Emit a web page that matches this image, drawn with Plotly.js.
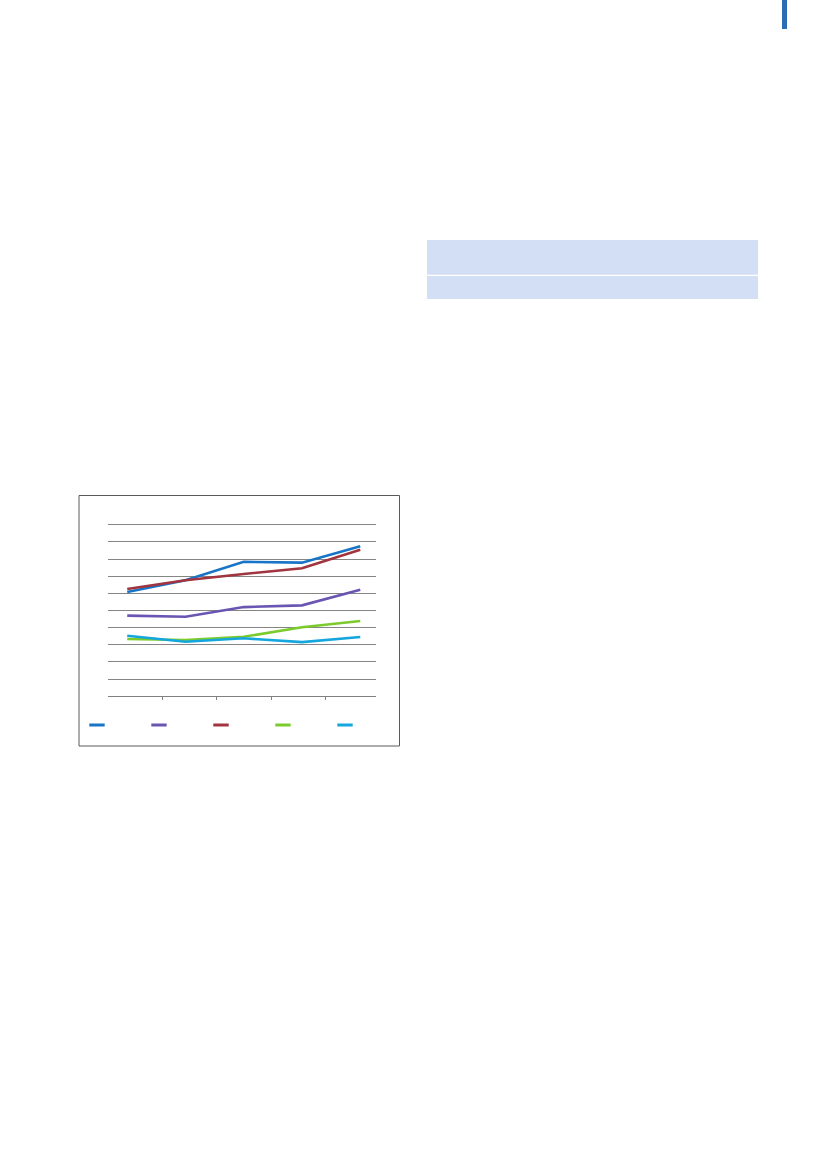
<!DOCTYPE html>
<html>
<head>
<meta charset="utf-8">
<script src="https://cdn.plot.ly/plotly-3.0.1.min.js"></script>
<style>
  html, body { margin: 0; padding: 0; background: #fff; }
  #page { width: 827px; height: 1169px; }
</style>
</head>
<body>
<div id="page"></div>
<script>
// 5 periods, values (no labels visible)
var periods = [0, 1, 2, 3, 4];
var serieBlue   = [6.08, 6.76, 7.84, 7.79, 8.74];
var seriePurple = [4.70, 4.64, 5.20, 5.30, 6.21];
var serieRed    = [6.25, 6.76, 7.13, 7.46, 8.54];
var serieGreen  = [3.34, 3.28, 3.47, 4.02, 4.39];
var serieCyan   = [3.53, 3.18, 3.38, 3.16, 3.46];
var colors = ['#1874c6', '#6b55b3', '#a0343f', '#7ccb2c', '#14a6dd'];

window.onload = function () {
  var W = 827, H = 1169;
  function px(x) { return x / W; }
  function py(y) { return 1 - y / H; }

  var series = [serieBlue, seriePurple, serieRed, serieGreen, serieCyan];
  var data = [];
  // lines on the chart
  series.forEach(function (s, i) {
    data.push({
      x: periods, y: s, type: 'scatter', mode: 'lines',
      line: { color: colors[i], width: 2.6 },
      showlegend: false, legendgroup: 'g' + i, hoverinfo: 'skip'
    });
  });
  // short legend keys
  series.forEach(function (s, i) {
    data.push({
      x: [null], y: [null], type: 'scatter', mode: 'markers',
      name: '', legendgroup: 'g' + i,
      marker: { symbol: 'line-ew', size: 11, color: colors[i],
                line: { color: colors[i], width: 3 } }
    });
  });

  var layout = {
    width: W, height: H,
    margin: { l: 0, r: 0, t: 0, b: 0 },
    paper_bgcolor: '#fff', plot_bgcolor: 'rgba(0,0,0,0)',
    xaxis: {
      domain: [px(108), px(376)], range: [-0.33, 4.27],
      showgrid: false, zeroline: false, showticklabels: false,
      tickmode: 'array', tickvals: [0.6, 1.53, 2.47, 3.4],
      ticks: 'outside', ticklen: 3, tickcolor: '#808080', tickwidth: 1,
      showline: true, linecolor: '#808080', linewidth: 1, fixedrange: true
    },
    yaxis: {
      domain: [py(696.3), py(521.3)], range: [0, 10.2], dtick: 1,
      showgrid: true, gridcolor: '#858585', gridwidth: 1,
      zeroline: false, showticklabels: false, showline: false, fixedrange: true
    },
    showlegend: true,
    legend: {
      orientation: 'h', x: px(77), xanchor: 'left',
      y: py(725), yanchor: 'middle',
      entrywidth: 17, entrywidthmode: 'pixels',
      bgcolor: 'rgba(0,0,0,0)', font: { size: 10 }
    },
    shapes: [
      // chart frame
      { type: 'rect', xref: 'paper', yref: 'paper',
        x0: px(79), x1: px(399.5), y0: py(746), y1: py(495.5),
        line: { color: '#5a5a5a', width: 1 }, fillcolor: 'rgba(0,0,0,0)' },
      // light blue table bands
      { type: 'rect', xref: 'paper', yref: 'paper',
        x0: px(427), x1: px(758), y0: py(274.7), y1: py(240),
        line: { width: 0 }, fillcolor: '#d3dff4' },
      { type: 'rect', xref: 'paper', yref: 'paper',
        x0: px(427), x1: px(758), y0: py(299), y1: py(276),
        line: { width: 0 }, fillcolor: '#d3dff4' },
      // page edge marker
      { type: 'rect', xref: 'paper', yref: 'paper',
        x0: px(782), x1: px(787), y0: py(29), y1: py(0),
        line: { width: 0 }, fillcolor: '#2b6cb5' }
    ]
  };

  Plotly.newPlot('page', data, layout, { displayModeBar: false, staticPlot: true });
};
</script>
</body>
</html>
